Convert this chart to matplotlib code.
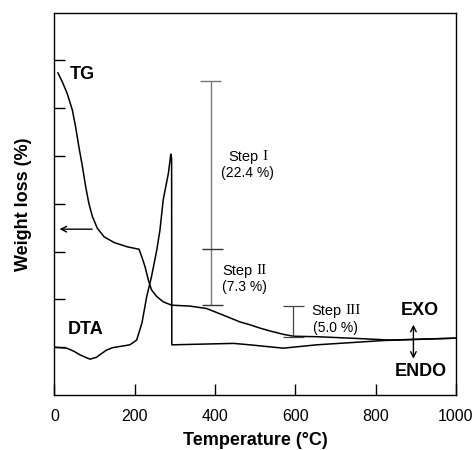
import numpy as np
import matplotlib.pyplot as plt

plt.rcParams['font.family'] = ['Liberation Sans', 'DejaVu Sans']

# TG curve (arbitrary units)
tg_temp = [9, 20, 32, 45, 53, 61, 70, 78, 86, 95, 107, 124, 149, 182, 211,
           219, 226, 234, 242, 255, 271, 292, 338, 379, 421, 462, 487, 512,
           537, 570, 595, 653, 736, 836, 1000]
tg_val = [6.74, 6.55, 6.31, 5.96, 5.61, 5.20, 4.78, 4.36, 4.01, 3.73, 3.49,
          3.31, 3.19, 3.10, 3.05, 2.86, 2.68, 2.41, 2.20, 2.06, 1.95, 1.88,
          1.86, 1.81, 1.67, 1.53, 1.47, 1.40, 1.34, 1.27, 1.23, 1.22, 1.19,
          1.15, 1.19]

# DTA curve
dta_temp = [0, 31, 50, 64, 80, 89, 105, 118, 130, 145, 159, 188, 205, 218,
            230, 242, 255, 263, 271, 284, 290, 292, 292.5, 446, 487, 570, 653,
            819, 1000]
dta_val = [1.00, 0.98, 0.91, 0.84, 0.78, 0.75, 0.79, 0.87, 0.94, 0.99, 1.01,
           1.05, 1.15, 1.50, 2.06, 2.48, 3.03, 3.45, 4.08, 4.64, 5.04, 4.95,
           1.05, 1.08, 1.05, 0.98, 1.05, 1.14, 1.19]

# step bars: x, top, middle/bottom
step_x = [390, 593]
step_y = [6.58, 3.055, 1.88]
step3_y = [1.86, 1.22]
step_names = ['I', 'II', 'III']
step_pcts = ['(22.4 %)', '(7.3 %)', '(5.0 %)']
label_pos = [(481, 4.99, 4.64), (474, 2.60, 2.25), (700, 1.76, 1.41)]
x_ticks = [0, 200, 400, 600, 800, 1000]

fig = plt.figure(figsize=(4.74, 4.5), dpi=100)
ax = fig.add_axes([0.1146, 0.1222, 0.8474, 0.8496])

ax.plot(tg_temp, tg_val, color='black', lw=1.1)
ax.plot(dta_temp, dta_val, color='black', lw=1.1)

# step bars
ax.vlines(step_x[0], step_y[2], step_y[0], color='#777777', lw=1.0)
ax.hlines(step_y[0], 363, 414, color='#777777', lw=1.0)
ax.hlines(step_y[1], 367, 419, color='#333333', lw=1.0)
ax.hlines(step_y[2], 367, 419, color='#333333', lw=1.0)
ax.vlines(step_x[1], step3_y[1], step3_y[0], color='#444444', lw=0.9)
ax.hlines(step3_y[0], 570, 622, color='#444444', lw=0.9)
ax.hlines(step3_y[1], 570, 622, color='#444444', lw=0.9)

# "Step" in sans, the roman numeral in serif
numeral_w = {'I': 3.6, 'II': 7.2, 'III': 10.8}
for name, pct, (cx, y1, y2) in zip(step_names, step_pcts, label_pos):
    total = 24.5 + numeral_w[name]
    ax.annotate('Step', (cx, y1), xytext=(-total / 2, 0),
                textcoords='offset points', ha='left', va='center', fontsize=10.5)
    ax.annotate(name, (cx, y1), xytext=(-total / 2 + 24.5, 0),
                textcoords='offset points', ha='left', va='center', fontsize=11,
                family='Liberation Serif')
    ax.text(cx, y2, pct, ha='center', va='center', fontsize=10)

ax.text(39, 6.7, 'TG', fontsize=13, fontweight='bold', va='center')
ax.text(34, 1.37, 'DTA', fontsize=13, fontweight='bold', va='center')
ax.text(910, 1.76, 'EXO', fontsize=13, fontweight='bold', ha='center', va='center')
ax.text(912, 0.49, 'ENDO', fontsize=13, fontweight='bold', ha='center', va='center')

ax.annotate('', xy=(6, 3.47), xytext=(101, 3.47),
            arrowprops=dict(arrowstyle='->', color='black', lw=1.0))
ax.annotate('', xy=(894, 1.53), xytext=(894, 0.70),
            arrowprops=dict(arrowstyle='<->', color='black', lw=1.0))

ax.set_xlim(0, 1000)
ax.set_ylim(0, 8)
ax.set_xticks(x_ticks)
ax.set_yticks([1, 2, 3, 4, 5, 6, 7])
ax.set_yticklabels([])
ax.tick_params(direction='in', length=8, width=1.0, labelsize=11.5, pad=10)
ax.tick_params(axis='x', top=False)
ax.tick_params(axis='y', right=False)
for s in ax.spines.values():
    s.set_linewidth(1.0)

ax.set_xlabel('Temperature (°C)', fontsize=13, fontweight='bold', labelpad=6)
ax.set_ylabel('Weight loss (%)', fontsize=13, fontweight='bold', labelpad=6)

fig.savefig('out.png', dpi=100)
